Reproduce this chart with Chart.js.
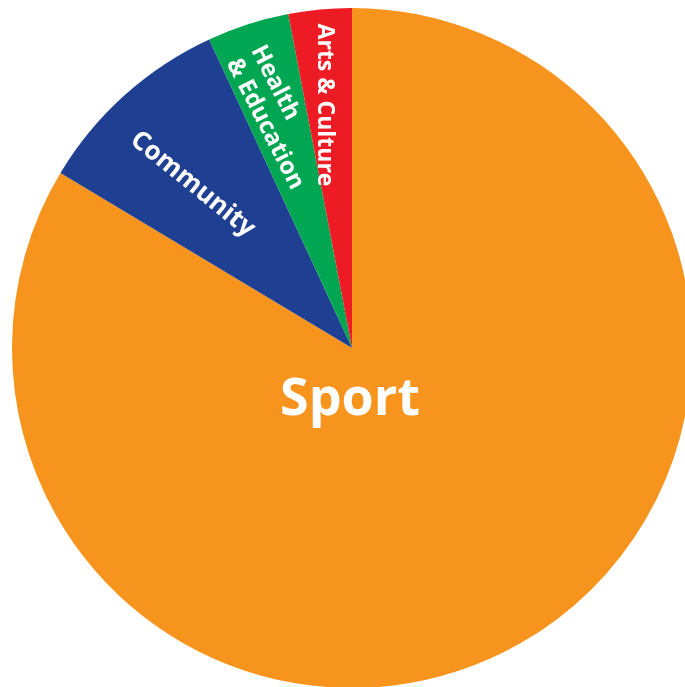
<!DOCTYPE html>
<html>
<head>
<meta charset="utf-8">
<script src="https://cdn.jsdelivr.net/npm/chart.js@4/dist/chart.umd.min.js"></script>
<style>
  html, body { margin: 0; padding: 0; background: #ffffff; overflow: hidden; width: 685px; height: 687px; }
  #c { position: absolute; left: 0; top: 0; }
</style>
</head>
<body>
<canvas id="c" width="704" height="696" style="width:704px;height:696px"></canvas>
<script>
const categories = ["Sport", "Community", "Health & Education", "Arts & Culture"];
const shares = [83.6, 9.5, 3.9, 3.0];
const sliceColors = ["#F7941D", "#1F3F93", "#00A651", "#ED1C24"];
const labelLines = [["Sport"], ["Community"], ["Health", "& Education"], ["Arts & Culture"]];

// label placement relative to pie centre
const labelStyle = [
  { lines: [[-2, 67]], rot: 0, size: 52 },
  { lines: [[-164, -158]], rot: 39, size: 26 },
  { lines: [[-83, -262], [-93, -221]], rot: 63, size: 24 },
  { lines: [[-34, -243]], rot: 90, size: 23 }
];

const labelPlugin = {
  id: 'sliceLabels',
  afterDatasetsDraw(chart) {
    const meta = chart.getDatasetMeta(0);
    const arc = meta.data[0];
    const cx = arc.x, cy = arc.y;
    const ctx = chart.ctx;
    ctx.save();
    ctx.fillStyle = '#ffffff';
    ctx.textAlign = 'center';
    ctx.textBaseline = 'alphabetic';
    labelLines.forEach((lines, i) => {
      const st = labelStyle[i];
      ctx.font = 'bold ' + st.size + 'px "Open Sans"';
      lines.forEach((txt, j) => {
        const p = st.lines[j];
        ctx.save();
        ctx.translate(cx + p[0], cy + p[1]);
        ctx.rotate(st.rot * Math.PI / 180);
        ctx.fillText(txt, 0, 0);
        ctx.restore();
      });
    });
    ctx.restore();
  }
};

new Chart(document.getElementById('c'), {
  type: 'pie',
  data: {
    labels: categories,
    datasets: [{
      data: shares,
      backgroundColor: sliceColors,
      borderWidth: 0
    }]
  },
  options: {
    responsive: false,
    animation: false,
    devicePixelRatio: 1,
    layout: { padding: 8 },
    plugins: { legend: { display: false }, tooltip: { enabled: false } }
  },
  plugins: [labelPlugin]
});
</script>
</body>
</html>
